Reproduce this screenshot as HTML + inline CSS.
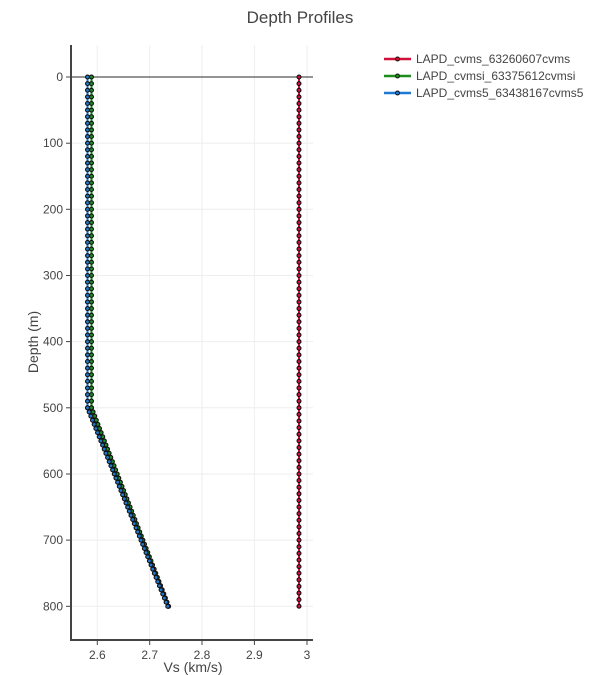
<!DOCTYPE html>
<html><head><meta charset="utf-8"><style>
html,body{margin:0;padding:0;background:#fff;}
svg{display:block;font-family:"Liberation Sans",sans-serif;}
</style></head><body>
<svg width="600" height="675" viewBox="0 0 600 675" xmlns="http://www.w3.org/2000/svg">
<rect width="600" height="675" fill="#fff"/>
<text x="300" y="23" text-anchor="middle" font-size="17" fill="#444">Depth Profiles</text>
<!-- grid -->
<g stroke="#eeeeee" stroke-width="1">
<line x1="97.3" y1="45" x2="97.3" y2="640"/>
<line x1="149.7" y1="45" x2="149.7" y2="640"/>
<line x1="202" y1="45" x2="202" y2="640"/>
<line x1="254.4" y1="45" x2="254.4" y2="640"/>
<line x1="307" y1="45" x2="307" y2="640"/>
<line x1="71" y1="143.2" x2="313" y2="143.2"/>
<line x1="71" y1="209.3" x2="313" y2="209.3"/>
<line x1="71" y1="275.5" x2="313" y2="275.5"/>
<line x1="71" y1="341.6" x2="313" y2="341.6"/>
<line x1="71" y1="407.8" x2="313" y2="407.8"/>
<line x1="71" y1="474" x2="313" y2="474"/>
<line x1="71" y1="540.1" x2="313" y2="540.1"/>
<line x1="71" y1="606.3" x2="313" y2="606.3"/>
</g>
<line x1="71" y1="77" x2="313" y2="77" stroke="#555" stroke-width="1.2"/>
<!-- axes -->
<line x1="71" y1="45" x2="71" y2="641" stroke="#444" stroke-width="2"/>
<line x1="70" y1="640" x2="313" y2="640" stroke="#444" stroke-width="2"/>
<g stroke="#444" stroke-width="1">
<line x1="66" y1="77" x2="71" y2="77"/>
<line x1="66" y1="143.2" x2="71" y2="143.2"/>
<line x1="66" y1="209.3" x2="71" y2="209.3"/>
<line x1="66" y1="275.5" x2="71" y2="275.5"/>
<line x1="66" y1="341.6" x2="71" y2="341.6"/>
<line x1="66" y1="407.8" x2="71" y2="407.8"/>
<line x1="66" y1="474" x2="71" y2="474"/>
<line x1="66" y1="540.1" x2="71" y2="540.1"/>
<line x1="66" y1="606.3" x2="71" y2="606.3"/>
<line x1="97.3" y1="640" x2="97.3" y2="645"/>
<line x1="149.7" y1="640" x2="149.7" y2="645"/>
<line x1="202" y1="640" x2="202" y2="645"/>
<line x1="254.4" y1="640" x2="254.4" y2="645"/>
<line x1="307" y1="640" x2="307" y2="645"/>
</g>
<g font-size="12" fill="#444" text-anchor="end">
<text x="63" y="81">0</text>
<text x="63" y="147.2">100</text>
<text x="63" y="213.3">200</text>
<text x="63" y="279.5">300</text>
<text x="63" y="345.6">400</text>
<text x="63" y="411.8">500</text>
<text x="63" y="478">600</text>
<text x="63" y="544.1">700</text>
<text x="63" y="610.3">800</text>
</g>
<g font-size="12" fill="#444" text-anchor="middle">
<text x="97.3" y="659">2.6</text>
<text x="149.7" y="659">2.7</text>
<text x="202" y="659">2.8</text>
<text x="254.4" y="659">2.9</text>
<text x="307" y="659">3</text>
</g>
<text x="193" y="672" text-anchor="middle" font-size="14" fill="#444">Vs (km/s)</text>
<text transform="translate(38,342) rotate(-90)" text-anchor="middle" font-size="14" fill="#444">Depth (m)</text>

<!-- red series -->
<g fill="none">
<line x1="299" y1="77" x2="299" y2="606.3" stroke="#d0103a" stroke-width="2"/>
<line x1="299" y1="77" x2="299" y2="606.5" stroke="#111" stroke-width="5" stroke-linecap="round" stroke-dasharray="0 6.616"/>
<line x1="299" y1="77" x2="299" y2="606.5" stroke="#d0103a" stroke-width="2.8" stroke-linecap="round" stroke-dasharray="0 6.616"/>
</g>
<!-- green series -->
<g fill="none">
<polyline points="91.5,77 91.5,407.8 168.6,606.3" stroke="#1e8c1e" stroke-width="2"/>
<line x1="91.5" y1="77" x2="91.5" y2="408" stroke="#111" stroke-width="5" stroke-linecap="round" stroke-dasharray="0 6.616"/>
<line x1="91.5" y1="77" x2="91.5" y2="408" stroke="#1e8c1e" stroke-width="2.8" stroke-linecap="round" stroke-dasharray="0 6.616"/>
<line x1="91.5" y1="407.8" x2="168.7" y2="606.5" stroke="#111" stroke-width="5" stroke-linecap="round" stroke-dasharray="0 4.437"/>
<line x1="91.5" y1="407.8" x2="168.7" y2="606.5" stroke="#1e8c1e" stroke-width="2.8" stroke-linecap="round" stroke-dasharray="0 4.437"/>
</g>
<!-- blue series -->
<g fill="none">
<polyline points="87.5,77 87.5,407.8 167.7,606.3" stroke="#1f78d1" stroke-width="2"/>
<line x1="87.5" y1="77" x2="87.5" y2="408" stroke="#111" stroke-width="5" stroke-linecap="round" stroke-dasharray="0 6.616"/>
<line x1="87.5" y1="77" x2="87.5" y2="408" stroke="#1f78d1" stroke-width="2.8" stroke-linecap="round" stroke-dasharray="0 6.616"/>
<line x1="87.5" y1="407.8" x2="167.8" y2="606.5" stroke="#111" stroke-width="5" stroke-linecap="round" stroke-dasharray="0 4.463"/>
<line x1="87.5" y1="407.8" x2="167.8" y2="606.5" stroke="#1f78d1" stroke-width="2.8" stroke-linecap="round" stroke-dasharray="0 4.463"/>
</g>

<!-- legend -->
<g>
<line x1="384" y1="59" x2="411" y2="59" stroke="#d0103a" stroke-width="2.5"/>
<circle cx="397.5" cy="59" r="2" fill="#d0103a" stroke="#111" stroke-width="1"/>
<line x1="384" y1="76" x2="411" y2="76" stroke="#1e8c1e" stroke-width="2.5"/>
<circle cx="397.5" cy="76" r="2" fill="#1e8c1e" stroke="#111" stroke-width="1"/>
<line x1="384" y1="93" x2="411" y2="93" stroke="#1f78d1" stroke-width="2.5"/>
<circle cx="397.5" cy="93" r="2" fill="#1f78d1" stroke="#111" stroke-width="1"/>
</g>
<g font-size="12" fill="#444">
<text x="416" y="63">LAPD_cvms_63260607cvms</text>
<text x="416" y="80">LAPD_cvmsi_63375612cvmsi</text>
<text x="416" y="97">LAPD_cvms5_63438167cvms5</text>
</g>
</svg>
</body></html>
